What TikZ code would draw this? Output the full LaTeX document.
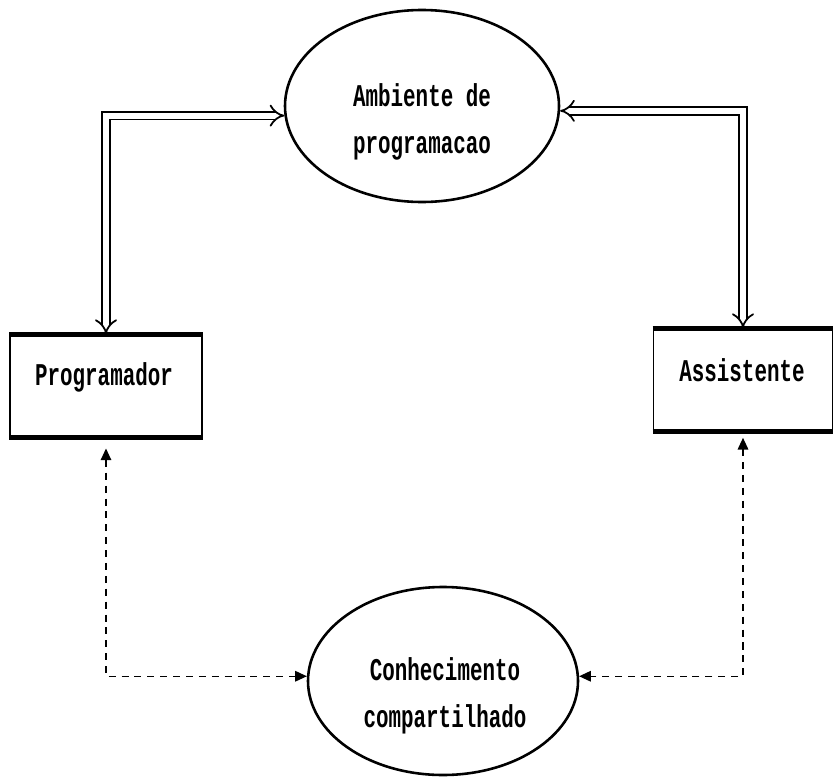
\documentclass[tikz,border=0pt]{standalone}
\usepackage{fontspec}
\usetikzlibrary{shapes.geometric,arrows.meta}
\newfontfamily\boxfont[FakeStretch=0.66]{Liberation Mono Bold}
\begin{document}
\begin{tikzpicture}[x=0.03cm,y=-0.03cm,
  lbl/.style={font=\boxfont\fontsize{27pt}{40pt}\selectfont, align=center, inner sep=0pt},
  oval/.style={ellipse, draw, line width=2.2pt, inner sep=0pt},
  actor/.style={draw, line width=1.6pt, inner sep=0pt, minimum height=102*0.03cm},
  dbl/.style={double, double distance=5pt, line width=1.5pt,
    {Implies[length=11pt,width=19pt]}-{Implies[length=11pt,width=19pt]}},
  dsh/.style={dashed, dash pattern=on 6pt off 5pt, line width=1.2pt,
    {Triangle[length=10pt,width=9pt]}-{Triangle[length=10pt,width=9pt]}}]
  \path[use as bounding box] (0,0) rectangle (837,780);

  % the two ovals
  \node[oval, minimum width=274*0.03cm, minimum height=192*0.03cm] (amb) at (422,106) {};
  \node[lbl] (ambtxt) at (422,122) {Ambiente de\\programacao};
  \node[oval, minimum width=270*0.03cm, minimum height=188*0.03cm] (conh) at (443,681) {};
  \node[lbl] (conhtxt) at (445,696) {Conhecimento\\compartilhado};

  % the two boxes
  \node[actor, minimum width=192*0.03cm] (prog) at (106,386) {};
  \node[lbl] (progtxt) at (104,377) {Programador};
  \node[actor, minimum width=179*0.03cm] (asst) at (743,380) {};
  \node[lbl] (assttxt) at (742,370) {Assistente};
  \foreach \b in {prog,asst}{
    \draw[line width=4.2pt] (\b.north west) -- (\b.north east);
    \draw[line width=4.2pt] (\b.south west) -- (\b.south east);
  }

  % hollow double arrows to the programming environment
  \draw[dbl] (amb.184) -| (prog.north);
  \draw[dbl] (amb.358) -| (asst.north);

  % dashed links to the shared knowledge
  \draw[dsh, shorten <=9pt] (prog.south) |- (conh.178);
  \draw[dsh, shorten <=5pt] (asst.south) |- (conh.2);
\end{tikzpicture}
\end{document}
